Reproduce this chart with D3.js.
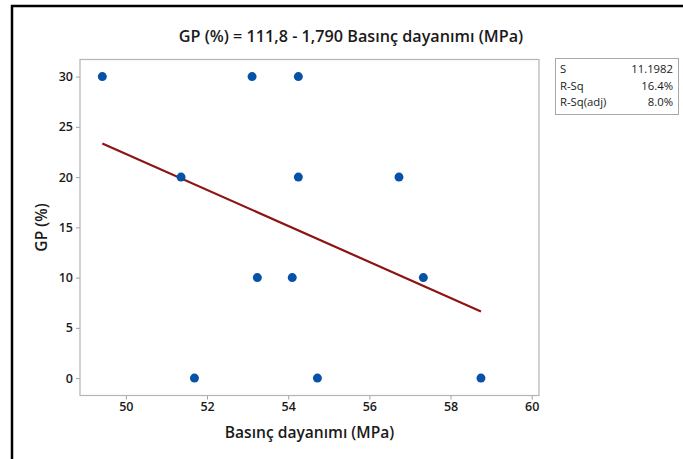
<!DOCTYPE html>
<html>
<head>
<meta charset="utf-8">
<script src="https://cdn.jsdelivr.net/npm/d3@7"></script>
<style>
  body { margin: 0; background: #fff; }
  text { font-family: "Open Sans", "Noto Sans", sans-serif; fill: #1a1a1a; }
</style>
</head>
<body>
<svg id="chart" width="683" height="459"></svg>
<script>
// data
let pressure = [49.42, 53.11, 54.25, 51.36, 54.25, 56.73, 53.24, 54.10, 57.33, 51.69, 54.72, 58.75];
let gp       = [30, 30, 30, 20, 20, 20, 10, 10, 10, 0, 0, 0];
let intercept = 111.8, slope = -1.790;
let xTicks = [50, 52, 54, 56, 58, 60];
let yTicks = [0, 5, 10, 15, 20, 25, 30];
let statNames  = ["S", "R-Sq", "R-Sq(adj)"];
let statValues = ["11.1982", "16.4%", "8.0%"];

let chart = d3.select("#chart");

// outer frame (only left + top visible in the crop)
chart.append("path")
    .attr("d", "M12,459 V6 H683")
    .attr("fill", "none")
    .attr("stroke", "#000")
    .attr("stroke-width", 2.5);

let pLeft = 80, pRight = 539, pTop = 59.5, pBottom = 395.5;

let x = d3.scaleLinear().domain([48.87, 60.18]).range([pLeft, pRight]);
let y = d3.scaleLinear().domain([-1.73, 31.7]).range([pBottom, pTop]);

// title
chart.append("text")
    .attr("x", 351)
    .attr("y", 42)
    .attr("text-anchor", "middle")
    .attr("font-size", "16.2px")
    .attr("font-weight", 600)
    .text("GP (%) = 111,8 - 1,790 Basınç dayanımı (MPa)");

// axes
let xAxis = chart.append("g")
    .attr("transform", "translate(0," + pBottom + ")")
    .call(d3.axisBottom(x).tickValues(xTicks).tickSize(4).tickPadding(3));
let yAxis = chart.append("g")
    .attr("transform", "translate(" + pLeft + ",0)")
    .call(d3.axisLeft(y).tickValues(yTicks).tickSize(4).tickPadding(3));

[xAxis, yAxis].forEach(function(a) {
    a.select(".domain").remove();
    a.selectAll("line").attr("stroke", "#a0a0a0");
    a.selectAll("text").attr("font-size", "12.5px").attr("font-weight", 600)
        .style("font-family", "'Open Sans', sans-serif").attr("fill", "#1a1a1a");
});

// plot frame
chart.append("rect")
    .attr("x", pLeft).attr("y", pTop)
    .attr("width", pRight - pLeft).attr("height", pBottom - pTop)
    .attr("fill", "none")
    .attr("stroke", "#b4b4b4")
    .attr("stroke-width", 1.2);

// axis labels
chart.append("text")
    .attr("x", (pLeft + pRight) / 2)
    .attr("y", 438)
    .attr("text-anchor", "middle")
    .attr("font-size", "15.6px")
    .attr("font-weight", 600)
    .text("Basınç dayanımı (MPa)");

chart.append("text")
    .attr("transform", "translate(47," + ((pTop + pBottom) / 2) + ") rotate(-90)")
    .attr("text-anchor", "middle")
    .attr("font-size", "15.6px")
    .attr("font-weight", 600)
    .text("GP (%)");

// fitted line
let xs = d3.extent(pressure);
chart.append("line")
    .attr("x1", x(xs[0])).attr("y1", y(intercept + slope * xs[0]))
    .attr("x2", x(xs[1])).attr("y2", y(intercept + slope * xs[1]))
    .attr("stroke", "#8c1414")
    .attr("stroke-width", 2.2);

// points
chart.selectAll("circle.pt")
    .data(pressure)
    .enter()
    .append("circle")
        .attr("class", "pt")
        .attr("cx", function(d) { return x(d); })
        .attr("cy", function(d, i) { return y(gp[i]); })
        .attr("r", 4.5)
        .attr("fill", "#0652a8");

// stats box
chart.append("rect")
    .attr("x", 555.5).attr("y", 58.5)
    .attr("width", 123).attr("height", 56)
    .attr("fill", "#fff")
    .attr("stroke", "#a8a8a8");

statNames.forEach(function(s, i) {
    chart.append("text")
        .attr("x", 560).attr("y", 73 + i * 16.5)
        .attr("font-size", "11.3px")
        .attr("font-weight", 500)
        .text(s);
    chart.append("text")
        .attr("x", 673).attr("y", 73 + i * 16.5)
        .attr("text-anchor", "end")
        .attr("font-size", "11.3px")
        .attr("font-weight", 500)
        .text(statValues[i]);
});
</script>
</body>
</html>
